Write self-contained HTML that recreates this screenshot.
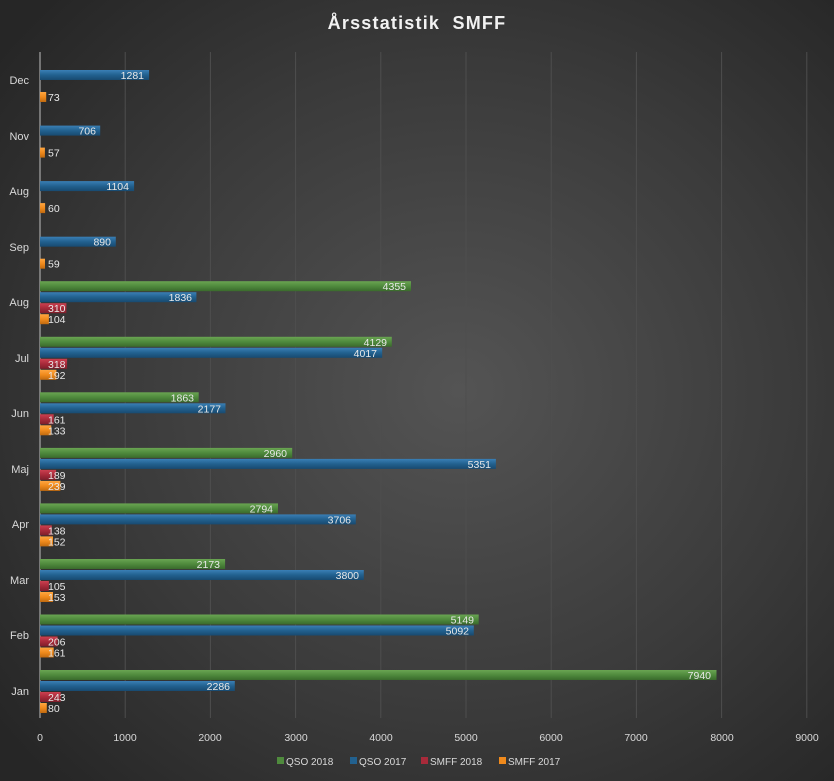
<!DOCTYPE html>
<html><head><meta charset="utf-8"><style>
html,body{margin:0;padding:0;background:#2b2b2b}
svg{display:block}
text{font-family:"Liberation Sans","DejaVu Sans",sans-serif}
</style></head><body>
<svg width="834" height="781" viewBox="0 0 834 781" xmlns="http://www.w3.org/2000/svg">
<defs>
<radialGradient id="bg" cx="0.55" cy="0.5" r="0.7">
<stop offset="0" stop-color="#545454"/><stop offset="0.6" stop-color="#3a3a3a"/><stop offset="1" stop-color="#262626"/>
</radialGradient>
<linearGradient id="g" x1="0" y1="0" x2="0" y2="1"><stop offset="0" stop-color="#6aa552"/><stop offset="0.5" stop-color="#4f8a3d"/><stop offset="1" stop-color="#3a6a2c"/></linearGradient>
<linearGradient id="b" x1="0" y1="0" x2="0" y2="1"><stop offset="0" stop-color="#3a7fb5"/><stop offset="0.5" stop-color="#22618f"/><stop offset="1" stop-color="#184a70"/></linearGradient>
<linearGradient id="r" x1="0" y1="0" x2="0" y2="1"><stop offset="0" stop-color="#cc4050"/><stop offset="0.5" stop-color="#a82a3a"/><stop offset="1" stop-color="#7e1e2a"/></linearGradient>
<linearGradient id="o" x1="0" y1="0" x2="0" y2="1"><stop offset="0" stop-color="#ffa640"/><stop offset="0.5" stop-color="#f08a1c"/><stop offset="1" stop-color="#c06a10"/></linearGradient>
</defs>
<rect width="834" height="781" fill="url(#bg)"/>
<text x="417" y="29" text-anchor="middle" font-size="18" font-weight="bold" fill="#f2f2f2" letter-spacing="1.2" xml:space="preserve">Årsstatistik  SMFF</text>
<g stroke="#4e4e4e" stroke-width="1">
<line x1="125.2" y1="52" x2="125.2" y2="718"/><line x1="210.4" y1="52" x2="210.4" y2="718"/><line x1="295.6" y1="52" x2="295.6" y2="718"/><line x1="380.8" y1="52" x2="380.8" y2="718"/><line x1="466" y1="52" x2="466" y2="718"/><line x1="551.2" y1="52" x2="551.2" y2="718"/><line x1="636.4" y1="52" x2="636.4" y2="718"/><line x1="721.6" y1="52" x2="721.6" y2="718"/><line x1="806.8" y1="52" x2="806.8" y2="718"/>
</g>
<line x1="40" y1="52" x2="40" y2="718" stroke="#bfbfbf"/>
<g font-size="10.5" fill="#d9d9d9" text-anchor="middle">
<text x="40" y="741">0</text><text x="125" y="741">1000</text><text x="210" y="741">2000</text><text x="296" y="741">3000</text><text x="381" y="741">4000</text><text x="466" y="741">5000</text><text x="551" y="741">6000</text><text x="636" y="741">7000</text><text x="722" y="741">8000</text><text x="807" y="741">9000</text>
</g>
<g font-size="11" fill="#d9d9d9" text-anchor="end">
<text x="29" y="84">Dec</text><text x="29" y="140">Nov</text><text x="29" y="195">Aug</text><text x="29" y="251">Sep</text><text x="29" y="306">Aug</text><text x="29" y="362">Jul</text><text x="29" y="417">Jun</text><text x="29" y="473">Maj</text><text x="29" y="528">Apr</text><text x="29" y="584">Mar</text><text x="29" y="639">Feb</text><text x="29" y="695">Jan</text>
</g>
<g>
<rect x="40" y="70" width="109.1" height="10" fill="url(#b)"/><rect x="40" y="92" width="6.2" height="10" fill="url(#o)"/>
<rect x="40" y="125.6" width="60.2" height="10" fill="url(#b)"/><rect x="40" y="147.6" width="4.9" height="10" fill="url(#o)"/>
<rect x="40" y="181.1" width="94.1" height="10" fill="url(#b)"/><rect x="40" y="203.1" width="5.1" height="10" fill="url(#o)"/>
<rect x="40" y="236.7" width="75.8" height="10" fill="url(#b)"/><rect x="40" y="258.7" width="5" height="10" fill="url(#o)"/>
<rect x="40" y="281.2" width="371" height="10" fill="url(#g)"/><rect x="40" y="292.2" width="156.4" height="10" fill="url(#b)"/><rect x="40" y="303.2" width="26.4" height="10" fill="url(#r)"/><rect x="40" y="314.2" width="8.9" height="10" fill="url(#o)"/>
<rect x="40" y="336.8" width="351.8" height="10" fill="url(#g)"/><rect x="40" y="347.8" width="342.2" height="10" fill="url(#b)"/><rect x="40" y="358.8" width="27.1" height="10" fill="url(#r)"/><rect x="40" y="369.8" width="16.4" height="10" fill="url(#o)"/>
<rect x="40" y="392.3" width="158.7" height="10" fill="url(#g)"/><rect x="40" y="403.3" width="185.5" height="10" fill="url(#b)"/><rect x="40" y="414.3" width="13.7" height="10" fill="url(#r)"/><rect x="40" y="425.3" width="11.3" height="10" fill="url(#o)"/>
<rect x="40" y="447.9" width="252.2" height="10" fill="url(#g)"/><rect x="40" y="458.9" width="455.9" height="10" fill="url(#b)"/><rect x="40" y="469.9" width="16.1" height="10" fill="url(#r)"/><rect x="40" y="480.9" width="20.4" height="10" fill="url(#o)"/>
<rect x="40" y="503.4" width="238" height="10" fill="url(#g)"/><rect x="40" y="514.4" width="315.8" height="10" fill="url(#b)"/><rect x="40" y="525.4" width="11.8" height="10" fill="url(#r)"/><rect x="40" y="536.4" width="13" height="10" fill="url(#o)"/>
<rect x="40" y="559" width="185.1" height="10" fill="url(#g)"/><rect x="40" y="570" width="323.8" height="10" fill="url(#b)"/><rect x="40" y="581" width="8.9" height="10" fill="url(#r)"/><rect x="40" y="592" width="13" height="10" fill="url(#o)"/>
<rect x="40" y="614.5" width="438.7" height="10" fill="url(#g)"/><rect x="40" y="625.5" width="433.8" height="10" fill="url(#b)"/><rect x="40" y="636.5" width="17.6" height="10" fill="url(#r)"/><rect x="40" y="647.5" width="13.7" height="10" fill="url(#o)"/>
<rect x="40" y="670" width="676.5" height="10" fill="url(#g)"/><rect x="40" y="681" width="194.8" height="10" fill="url(#b)"/><rect x="40" y="692" width="20.7" height="10" fill="url(#r)"/><rect x="40" y="703" width="6.8" height="10" fill="url(#o)"/>
</g>
<g font-size="10.5" fill="#e8e8e8" text-anchor="end">
<text x="144" y="79">1281</text><text x="96" y="134.6">706</text><text x="129" y="190.1">1104</text><text x="111" y="245.7">890</text>
<text x="406" y="290.2">4355</text><text x="192" y="301.2">1836</text>
<text x="387" y="345.8">4129</text><text x="377" y="356.8">4017</text>
<text x="194" y="401.3">1863</text><text x="221" y="412.3">2177</text>
<text x="287" y="456.9">2960</text><text x="491" y="467.9">5351</text>
<text x="273" y="512.4">2794</text><text x="351" y="523.4">3706</text>
<text x="220" y="568">2173</text><text x="359" y="579">3800</text>
<text x="474" y="623.5">5149</text><text x="469" y="634.5">5092</text>
<text x="711" y="679">7940</text><text x="230" y="690">2286</text>
</g>
<g font-size="10.5" fill="#e8e8e8">
<text x="48" y="101">73</text><text x="48" y="156.6">57</text><text x="48" y="212.1">60</text><text x="48" y="267.7">59</text>
<text x="48" y="312.2">310</text><text x="48" y="323.2">104</text>
<text x="48" y="367.8">318</text><text x="48" y="378.8">192</text>
<text x="48" y="423.3">161</text><text x="48" y="434.3">133</text>
<text x="48" y="478.9">189</text><text x="48" y="489.9">239</text>
<text x="48" y="534.4">138</text><text x="48" y="545.4">152</text>
<text x="48" y="590">105</text><text x="48" y="601">153</text>
<text x="48" y="645.5">206</text><text x="48" y="656.5">161</text>
<text x="48" y="701">243</text><text x="48" y="712">80</text>
</g>
<g font-size="10" fill="#d9d9d9">
<rect x="277" y="757" width="7" height="7" fill="#4f8a3d"/><text x="286" y="765">QSO 2018</text>
<rect x="350" y="757" width="7" height="7" fill="#22618f"/><text x="359" y="765">QSO 2017</text>
<rect x="421" y="757" width="7" height="7" fill="#a82a3a"/><text x="430" y="765">SMFF 2018</text>
<rect x="499" y="757" width="7" height="7" fill="#f08a1c"/><text x="508" y="765">SMFF 2017</text>
</g>
</svg>
</body></html>
